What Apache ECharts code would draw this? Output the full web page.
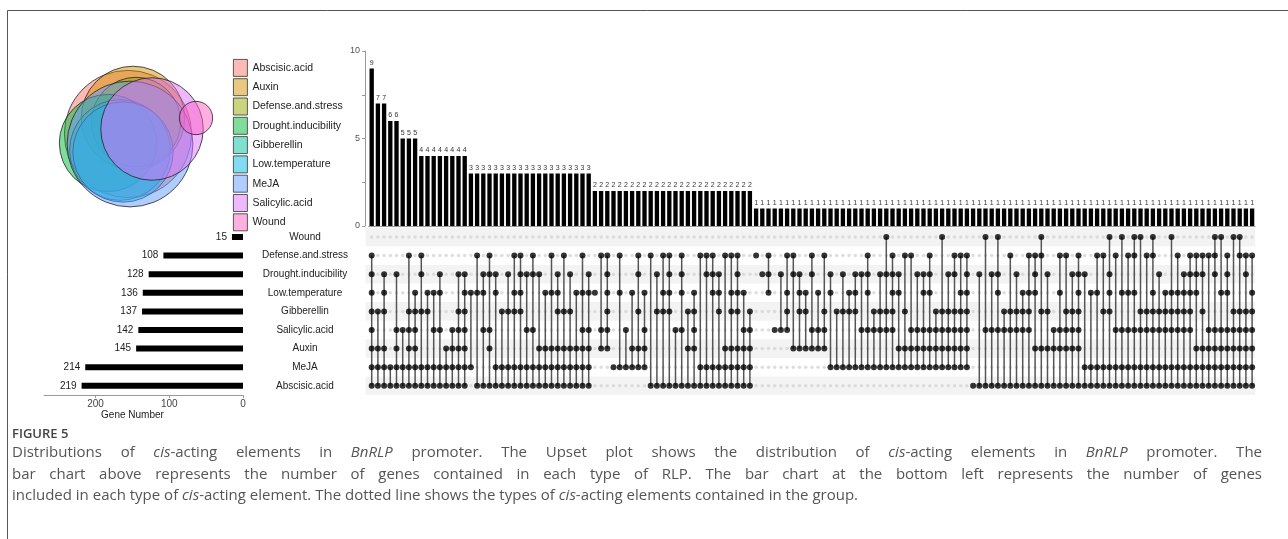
<!DOCTYPE html>
<html><head><meta charset="utf-8">
<script src="https://cdn.jsdelivr.net/npm/echarts@6/dist/echarts.min.js"></script>
<style>html,body{margin:0;padding:0;background:#fff}#c{width:1288px;height:539px}</style>
</head><body><div id="c"></div>
<script>
// ---- Sets (matrix rows, top to bottom) ----
const setNames = ['Wound','Defense.and.stress','Drought.inducibility','Low.temperature','Gibberellin','Salicylic.acid','Auxin','MeJA','Abscisic.acid'];
const setSizes = [15,108,128,136,137,142,145,214,219];
const setCodes = ['W','D','R','L','G','S','A','M','B'];

// ---- Intersections (columns, left to right) ----
const intersectionCounts = [
 9,7,7,6,6,5,5,5,4,4,4,4,4,4,4,4,
 3,3,3,3,3,3,3,3,3,3,3,3,3,3,3,3,3,3,3,3,
 2,2,2,2,2,2,2,2,2,2,2,2,2,2,2,2,2,2,2,2,2,2,2,2,2,2,
 1,1,1,1,1,1,1,1,1,1,1,1,1,1,1,1,1,1,1,1,1,1,1,1,1,1,1,1,1,1,1,1,1,1,1,1,1,1,1,1,
 1,1,1,1,1,1,1,1,1,1,1,1,1,1,1,1,1,1,1,1,1,1,1,1,1,1,1,1,1,1,1,1,1,1,1,1,1,1,1,1,1
];
const intersectionSets = [
 'D R L G S A M B','G A M B','R L G A M B','M B','R S A M B','S M B','D G S A M B','L G S A M B',
 'D R G M B','L G M B','L S M B','R L S M B','A M B','S A M B','R G S A M B','R L G S A M B',
 'L M','D L B','R L S B','D R S A B','R L M B','G M B','R G M B','D L G M B','D R L G M B','R S M B',
 'D R S M B','R A M B','L A M B','D L A M B','R L G A M B','D G A M B','R G A M B','L A M B','D L S A M B','R L S A M B',
 'L','D S A','D R L G S A','M','D L M','S M','L A M','D R G A M','L S A M','D B',
 'R G B','D L G B','D R L G B','S B','D R L S B','G A B','L G S A B','D M B','D R M B','D R L M B',
 'R L G M B','D A M B','D L G A M B','D R L G A M B','L S A M B','G S A M B',
 'D','R','D R L','S','R S','D L G S','D R A','R L G A','L G A','D R S A','L S A','D G S A',
 'R L M','G M','R G M','L G M','R L G M','R S M','D R L S M','G S M','R G S M','W R G S M',
 'D R L G S M','R L A M','D G A M','D S A M','R S A M','R L S A M','D R L S A M','G S A M','W G S A M','R G S A M',
 'D R G S A M','D L G S A M','D R L G S A M','B','R B','W S B','R S B','W R L S B','G S B','D G S B',
 'R G S B','L G S B','D L G S B','D R L A B','W D G A B','R G A B','S A B','D L S A B','D G S A B','R G S A B',
 'D R L G S A B','R M B','L M B','D L M B','D G M B','W R L G M B','D S M B','W L S M B','D L S M B','W D L S M B',
 'W G S M B','D G S M B','W D L G S M B','R G S M B','L G S M B','W L G S M B','D L G S M B','R L G S M B','D R L G S M B','D R L A M B',
 'D R G A M B','D S A M B','W D R S A M B','W L S A M B','D R L S A M B','W G S A M B','W D G S A M B','D R G S A M B','D L G S A M B'
];
const topTicks = [0,5,10];
const leftTicks = [0,100,200];

// ---- Venn ----
const vennNames = ['Abscisic.acid','Auxin','Defense.and.stress','Drought.inducibility','Gibberellin','Low.temperature','MeJA','Salicylic.acid','Wound'];
const vennColors = ['rgba(248,118,109,0.5)','rgba(211,146,0,0.5)','rgba(147,170,0,0.5)','rgba(0,186,56,0.5)','rgba(0,193,159,0.5)','rgba(0,185,227,0.5)','rgba(97,156,255,0.5)','rgba(219,114,251,0.5)','rgba(255,97,195,0.5)'];
const vennCenters = [[78,74],[83,58],[86,62],[58,83],[70,90],[73,92],[80,84],[102,69],[146,58]];

// ---- Caption ----
const figureLabel = 'FIGURE 5';
const captionLines = [
 'Distributions of {i|cis}-acting elements in {i|BnRLP} promoter. The Upset plot shows the distribution of {i|cis}-acting elements in {i|BnRLP} promoter. The',
 'bar chart above represents the number of genes contained in each type of RLP. The bar chart at the bottom left represents the number of genes',
 'included in each type of {i|cis}-acting element. The dotted line shows the types of {i|cis}-acting elements contained in the group.'
];
const captionJustify = [true, true, false];

// ---- derived ----
const colLabels = intersectionCounts.map((_, i) => String(i + 1));
const inactive = [], active = [], lines = [];
intersectionSets.forEach((s, ci) => {
  const rows = s.split(' ').map(c => setCodes.indexOf(c));
  for (let r = 0; r < setNames.length; r++) {
    if (rows.indexOf(r) >= 0) active.push([ci, r]); else inactive.push([ci, r]);
  }
  if (rows.length > 1) lines.push([ci, Math.min(...rows), Math.max(...rows)]);
});
const shadeRows = setNames.map((_, i) => [0, i]).filter((_, i) => i % 2 === 0);

const FONT = 'Liberation Sans, Arial, sans-serif';
const CAPF = '"Open Sans"';
const CAP_SIZE = 15;
const CAP_LEFT = 12, CAP_WIDTH = 1250, CAP_TOP = 445, CAP_LH = 21.8;

const mctx = document.createElement('canvas').getContext('2d');
function wordWidth(w) {
  let tot = 0; const re = /\{i\|([^}]*)\}|([^{]+)/g; let m;
  while ((m = re.exec(w))) {
    if (m[1] !== undefined) { mctx.font = 'italic ' + CAP_SIZE + 'px ' + CAPF; tot += mctx.measureText(m[1]).width; }
    else { mctx.font = CAP_SIZE + 'px ' + CAPF; tot += mctx.measureText(m[2]).width; }
  }
  return tot;
}
mctx.font = CAP_SIZE + 'px ' + CAPF;
const spaceW = mctx.measureText(' ').width;
const captionGraphics = [];
captionLines.forEach((line, li) => {
  const words = line.split(' ');
  const widths = words.map(wordWidth);
  const total = widths.reduce((a, b) => a + b, 0);
  const gap = captionJustify[li] ? (CAP_WIDTH - total) / (words.length - 1) : spaceW;
  let x = CAP_LEFT;
  words.forEach((w, wi) => {
    captionGraphics.push({type: 'text', x: x, y: CAP_TOP + li * CAP_LH, silent: true, style: {
      text: w, font: CAP_SIZE + 'px ' + CAPF, fill: '#555', verticalAlign: 'top',
      rich: {i: {fontStyle: 'italic', fontSize: CAP_SIZE, fontFamily: 'Open Sans', color: '#555'}}}});
    x += widths[wi] + gap;
  });
});

const vennSeries = vennNames.map((name, i) => {
  const size = setSizes[setNames.indexOf(name)];
  return {
    name, type: 'custom', xAxisIndex: 3, yAxisIndex: 3, z: 2 + i,
    itemStyle: {color: vennColors[i]},
    data: [[vennCenters[i][0], vennCenters[i][1], 4.3 * Math.sqrt(size)]],
    encode: {x: 0, y: 1},
    renderItem: (params, api) => {
      const c = api.coord([api.value(0), api.value(1)]);
      const r = api.size([api.value(2), 0])[0];
      return {type: 'circle', shape: {cx: c[0], cy: c[1], r}, style: {fill: api.visual('color'), stroke: '#222', lineWidth: 0.8}};
    }
  };
});

const chart = echarts.init(document.getElementById('c'), null, {renderer: 'canvas'});
chart.setOption({
  animation: false,
  backgroundColor: '#fff',
  textStyle: {fontFamily: FONT},
  legend: {
    data: vennNames, orient: 'vertical', left: 228, top: 54,
    itemWidth: 14, itemHeight: 17, itemGap: 1.5, icon: 'rect', selectedMode: false,
    itemStyle: {borderColor: '#333', borderWidth: 0.8},
    textStyle: {fontSize: 10.5, color: '#222', fontFamily: FONT}
  },
  grid: [
    {left: 368.6, width: 886.6, top: 51, height: 175},
    {left: 368.6, width: 886.6, top: 227.7, height: 167.4},
    {left: 44, width: 199, top: 227.7, height: 167.4},
    {left: 50, top: 60, width: 180, height: 150}
  ],
  xAxis: [
    {gridIndex: 0, type: 'category', data: colLabels, axisLine: {lineStyle: {color: '#999'}}, axisTick: {show: false}, axisLabel: {show: false}},
    {gridIndex: 1, type: 'category', data: colLabels, show: false},
    {gridIndex: 2, type: 'value', inverse: true, min: 0, max: 270, interval: 100,
     axisLine: {show: true, lineStyle: {color: '#999'}}, axisTick: {show: true, length: 3, lineStyle: {color: '#999'}},
     splitLine: {show: false},
     axisLabel: {fontSize: 10, color: '#444', margin: 4, showMaxLabel: false, formatter: v => leftTicks.indexOf(v) >= 0 ? String(v) : ''},
     name: 'Gene Number', nameLocation: 'middle', nameGap: 15,
     nameTextStyle: {fontSize: 10, color: '#222', padding: [0, 22, 0, 0]}},
    {gridIndex: 3, type: 'value', min: 0, max: 180, show: false}
  ],
  yAxis: [
    {gridIndex: 0, type: 'value', min: 0, max: 10, interval: 2.5, offset: 3.6,
     axisLine: {show: true, lineStyle: {color: '#999'}}, axisTick: {show: true, length: 3, lineStyle: {color: '#999'}},
     splitLine: {show: false},
     axisLabel: {fontSize: 9, color: '#555', margin: 5, formatter: v => topTicks.indexOf(v) >= 0 ? String(v) : ''}},
    {gridIndex: 1, type: 'category', data: setNames, inverse: true, show: false},
    {gridIndex: 2, type: 'category', data: setNames, inverse: true, position: 'right',
     axisLine: {show: false}, axisTick: {show: false},
     axisLabel: {fontSize: 10, color: '#222', align: 'center', margin: 62}},
    {gridIndex: 3, type: 'value', min: 0, max: 150, inverse: true, show: false}
  ],
  series: [
    ...vennSeries,
    {type: 'bar', xAxisIndex: 0, yAxisIndex: 0, data: intersectionCounts, barWidth: '70%',
     itemStyle: {color: '#000'},
     label: {show: true, position: 'top', distance: 2, fontSize: 7, color: '#333'}},
    {type: 'custom', xAxisIndex: 1, yAxisIndex: 1, z: 1, data: shadeRows, encode: {x: 0, y: 1},
     renderItem: (params, api) => {
       const cs = params.coordSys;
       const c = api.coord([0, api.value(1)]);
       const h = api.size([0, 1])[1];
       return {type: 'rect', shape: {x: cs.x - 3, y: c[1] - h / 2, width: cs.width + 3, height: h}, style: {fill: '#f3f3f3'}};
     }},
    {type: 'scatter', xAxisIndex: 1, yAxisIndex: 1, z: 2, data: inactive, symbolSize: 3.5,
     itemStyle: {color: '#d6d6d6'}},
    {type: 'custom', xAxisIndex: 1, yAxisIndex: 1, z: 3, data: lines, encode: {x: 0, y: [1, 2]},
     renderItem: (params, api) => {
       const p1 = api.coord([api.value(0), api.value(1)]);
       const p2 = api.coord([api.value(0), api.value(2)]);
       return {type: 'line', shape: {x1: p1[0], y1: p1[1], x2: p2[0], y2: p2[1]}, style: {stroke: '#555', lineWidth: 1.5}};
     }},
    {type: 'scatter', xAxisIndex: 1, yAxisIndex: 1, z: 4, data: active, symbolSize: 6,
     itemStyle: {color: '#000'}},
    {type: 'bar', xAxisIndex: 2, yAxisIndex: 2, data: setSizes, barWidth: 6,
     itemStyle: {color: '#000'},
     label: {show: true, position: 'left', distance: 5, fontSize: 10, color: '#222'}}
  ],
  graphic: [
    {type: 'polyline', silent: true, shape: {points: [[7.5, 539], [7.5, 10.5], [1288, 10.5]]}, style: {stroke: '#555', lineWidth: 1, fill: null}},
    {type: 'text', left: 12, top: 428, style: {text: figureLabel, font: '600 13px ' + CAPF, fill: '#444'}},
    ...captionGraphics
  ]
});
</script></body></html>
